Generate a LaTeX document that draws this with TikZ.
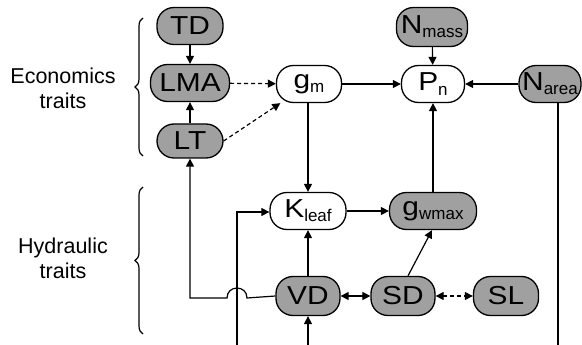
\documentclass[tikz,border=0pt]{standalone}
\usepackage{fontspec}
\setmainfont{Liberation Sans}
\newfontfamily\nodefont[FakeStretch=1.15]{Liberation Sans}
\usetikzlibrary{arrows.meta,calc,decorations.pathreplacing}
\definecolor{nodegray}{HTML}{A0A0A0}
\begin{document}
\begin{tikzpicture}[x=1pt,y=-1pt,
  trait/.style={draw=black, line width=1.3pt, rounded corners=17pt, minimum height=37pt,
    inner sep=0pt, font=\nodefont\fontsize{26}{28}\selectfont, text=black},
  grayfill/.style={trait, fill=nodegray},
  whitefill/.style={trait, fill=white},
  conn/.style={line width=1.2pt, -{Triangle[length=8pt,width=8pt]}},
  dconn/.style={conn, dash pattern=on 4pt off 3pt},
  lbl/.style={font=\fontsize{21.5}{25}\selectfont, align=center},
  brc/.style={line width=1.2pt, decorate, decoration={brace, amplitude=8pt, mirror}}
]
\fill[white] (0,0) rectangle (582,345);
\useasboundingbox (0,0) rectangle (582,345);

\newcommand{\sbs}[1]{\raisebox{-0.3ex}{\fontspec{Liberation Sans}\fontsize{17}{19}\selectfont #1}}

\node[grayfill, minimum width=66pt] (TD) at (190,26) {TD};
\node[grayfill, minimum width=79pt] (LMA) at (190,83) {LMA};
\node[grayfill, minimum width=66pt, minimum height=34pt] (LT) at (190,141) {LT};
\node[whitefill, minimum width=65pt] (gm) at (309,84) {g\sbs{m}};
\node[whitefill, minimum width=63pt] (Pn) at (433,84) {P\sbs{n}};
\node[grayfill, minimum width=71pt, minimum height=39pt] (Nmass) at (432,27) {N\sbs{mass}};
\node[grayfill, minimum width=62pt] (Narea) at (550,84) {N\sbs{area}};
\node[whitefill, minimum width=76pt] (Kleaf) at (308,211) {K\sbs{leaf}};
\node[grayfill, minimum width=87pt] (gwmax) at (433,211) {g\sbs{wmax}};
\node[grayfill, minimum width=64pt, minimum height=39pt] (VD) at (308,296) {VD};
\node[grayfill, minimum width=64pt, minimum height=39pt] (SD) at (403,296) {SD};
\node[grayfill, minimum width=65pt, minimum height=39pt] (SL) at (506,296) {SL};

\coordinate (bot1) at (237,345);
\coordinate (bot2) at (308,345);
\coordinate (bot3) at (558,345);

% economics
\draw[conn] (TD) -- (LMA);
\draw[conn] (LT) -- (LMA);
\draw[dconn] (LMA) -- (gm);
\draw[dconn] (LT.east) -- (gm);
\draw[conn] (gm) -- (Pn);
\draw[conn] (Nmass) -- (Pn);
\draw[conn] (Narea) -- (Pn);
\draw[line width=1.2pt] (Narea.south -| bot3) -- (bot3);
\draw[conn] (gm.south -| Kleaf.north) -- (Kleaf.north);
\draw[conn] (Kleaf) -- (gwmax);
\draw[conn] (gwmax) -- (Pn);
\draw[conn] (VD) -- (Kleaf);
\draw[conn] ($(SD.north)+(5,0)$) -- ($(gwmax.south)+(-1,0)$);
\draw[line width=1.2pt, {Triangle[length=8pt,width=8pt]}-{Triangle[length=8pt,width=8pt]}] (VD) -- (SD);
\draw[line width=1.2pt, dash pattern=on 4pt off 3pt, {Triangle[length=8pt,width=8pt]}-{Triangle[length=8pt,width=8pt]}] (SD) -- (SL);
\draw[conn] (bot2) -- (VD);
\draw[conn] (bot1) -- (237,212) -- (Kleaf.west |- 0,212);
\draw[conn] (VD.west) -- (247,298) .. controls (247,284.7) and (227,284.7) .. (227,298) -- (190,298) -- (LT.south);

% braces
\draw[brc] (143,18) -- (143,156);
\draw[brc] (143,187) -- (143,334);
\node[lbl] (econ) at (63,88) {Economics\\traits};
\node[lbl] (hyd) at (63,258) {Hydraulic\\traits};
\end{tikzpicture}
\end{document}
